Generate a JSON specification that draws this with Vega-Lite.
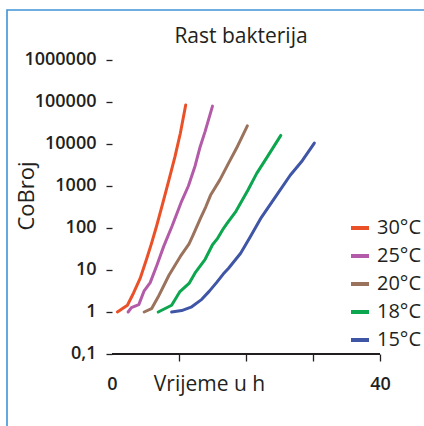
{
  "$schema": "https://vega.github.io/schema/vega-lite/v6.json",
  "width": 420,
  "height": 420,
  "autosize": {"type": "none"},
  "padding": {"left": 7, "top": 10, "right": 0, "bottom": 0},
  "background": "white",
  "title": {
    "text": "Rast bakterija",
    "frame": "group",
    "anchor": "middle",
    "dx": 24,
    "offset": -37,
    "font": "Open Sans",
    "fontSize": 21,
    "fontWeight": "normal",
    "color": "#231F20"
  },
  "config": {
    "view": {"stroke": "#3E93D6", "strokeWidth": 1.6},
    "font": "Open Sans"
  },
  "data": {
    "values": [
      {"temp": "30°C", "t": 0.8, "n": 1.0},
      {"temp": "30°C", "t": 2.3, "n": 1.45},
      {"temp": "30°C", "t": 3.2, "n": 2.8},
      {"temp": "30°C", "t": 4.2, "n": 6.3},
      {"temp": "30°C", "t": 5.2, "n": 19},
      {"temp": "30°C", "t": 5.9, "n": 43},
      {"temp": "30°C", "t": 6.7, "n": 118},
      {"temp": "30°C", "t": 7.6, "n": 400},
      {"temp": "30°C", "t": 8.5, "n": 1400},
      {"temp": "30°C", "t": 9.4, "n": 5000},
      {"temp": "30°C", "t": 10.2, "n": 18000},
      {"temp": "30°C", "t": 11.0, "n": 85000},

      {"temp": "25°C", "t": 2.4, "n": 1.0},
      {"temp": "25°C", "t": 2.9, "n": 1.27},
      {"temp": "25°C", "t": 4.0, "n": 1.5},
      {"temp": "25°C", "t": 4.8, "n": 3.2},
      {"temp": "25°C", "t": 5.7, "n": 5},
      {"temp": "25°C", "t": 6.7, "n": 13},
      {"temp": "25°C", "t": 7.7, "n": 36},
      {"temp": "25°C", "t": 9.0, "n": 115},
      {"temp": "25°C", "t": 10.3, "n": 400},
      {"temp": "25°C", "t": 11.4, "n": 1000},
      {"temp": "25°C", "t": 12.4, "n": 3000},
      {"temp": "25°C", "t": 13.1, "n": 8000},
      {"temp": "25°C", "t": 13.9, "n": 20000},
      {"temp": "25°C", "t": 15.0, "n": 80000},

      {"temp": "20°C", "t": 4.8, "n": 1.0},
      {"temp": "20°C", "t": 5.9, "n": 1.2},
      {"temp": "20°C", "t": 6.9, "n": 2.3},
      {"temp": "20°C", "t": 8.5, "n": 7.5},
      {"temp": "20°C", "t": 10.2, "n": 21},
      {"temp": "20°C", "t": 11.5, "n": 42},
      {"temp": "20°C", "t": 12.1, "n": 68},
      {"temp": "20°C", "t": 13.2, "n": 170},
      {"temp": "20°C", "t": 14.0, "n": 320},
      {"temp": "20°C", "t": 14.7, "n": 600},
      {"temp": "20°C", "t": 16.1, "n": 1400},
      {"temp": "20°C", "t": 17.4, "n": 3500},
      {"temp": "20°C", "t": 18.6, "n": 8000},
      {"temp": "20°C", "t": 20.2, "n": 27000},

      {"temp": "18°C", "t": 6.9, "n": 1.0},
      {"temp": "18°C", "t": 8.9, "n": 1.45},
      {"temp": "18°C", "t": 10.1, "n": 3.0},
      {"temp": "18°C", "t": 11.5, "n": 4.8},
      {"temp": "18°C", "t": 12.4, "n": 8.5},
      {"temp": "18°C", "t": 13.9, "n": 18},
      {"temp": "18°C", "t": 15.0, "n": 40},
      {"temp": "18°C", "t": 15.7, "n": 55},
      {"temp": "18°C", "t": 16.5, "n": 90},
      {"temp": "18°C", "t": 17.2, "n": 130},
      {"temp": "18°C", "t": 18.5, "n": 250},
      {"temp": "18°C", "t": 20.3, "n": 800},
      {"temp": "18°C", "t": 21.6, "n": 2000},
      {"temp": "18°C", "t": 23.2, "n": 5000},
      {"temp": "18°C", "t": 25.2, "n": 16000},

      {"temp": "15°C", "t": 8.9, "n": 1.0},
      {"temp": "15°C", "t": 10.4, "n": 1.08},
      {"temp": "15°C", "t": 11.8, "n": 1.3},
      {"temp": "15°C", "t": 13.4, "n": 2.0},
      {"temp": "15°C", "t": 14.5, "n": 3.1},
      {"temp": "15°C", "t": 15.6, "n": 5},
      {"temp": "15°C", "t": 16.6, "n": 8},
      {"temp": "15°C", "t": 17.4, "n": 11},
      {"temp": "15°C", "t": 19.2, "n": 25},
      {"temp": "15°C", "t": 20.6, "n": 60},
      {"temp": "15°C", "t": 22.3, "n": 180},
      {"temp": "15°C", "t": 24.7, "n": 650},
      {"temp": "15°C", "t": 26.6, "n": 1800},
      {"temp": "15°C", "t": 28.4, "n": 4000},
      {"temp": "15°C", "t": 30.2, "n": 10500}
    ]
  },
  "layer": [
    {
      "mark": {"type": "line", "strokeWidth": 3, "strokeCap": "round", "strokeJoin": "round"},
      "encoding": {
        "x": {
          "field": "t",
          "type": "quantitative",
          "scale": {"domain": [-15.6716, 47.0149], "nice": false, "zero": false},
          "axis": {
            "orient": "bottom",
            "offset": -76,
            "domain": false,
            "grid": false,
            "values": [0, 10, 20, 30, 40],
            "tickSize": 7,
            "tickWidth": 1.3,
            "tickColor": {"condition": {"test": "datum.value === 0", "value": "transparent"}, "value": "#231F20"},
            "labelExpr": "datum.value === 0 || datum.value === 40 ? datum.label : ''",
            "labelFont": "Open Sans",
            "labelFontSize": 18,
            "labelFontWeight": 600,
            "labelColor": "#231F20",
            "labelPadding": 14,
            "labelBaseline": "top",
            "labelFlush": false,
            "labelOverlap": false,
            "labelBound": false,
            "title": "Vrijeme u h",
            "titleFont": "Open Sans",
            "titleFontSize": 21,
            "titleFontWeight": "normal",
            "titleColor": "#231F20",
            "titleX": 202,
            "titleY": 36,
            "titleBaseline": "alphabetic",
            "titleAlign": "center"
          }
        },
        "y": {
          "field": "n",
          "type": "quantitative",
          "scale": {"type": "log", "domain": [0.0015503, 15503000], "nice": false, "zero": false},
          "axis": {
            "orient": "left",
            "offset": -105,
            "domain": false,
            "grid": false,
            "values": [0.1, 1, 10, 100, 1000, 10000, 100000, 1000000],
            "tickSize": 6,
            "tickWidth": 1.3,
            "tickColor": "#231F20",
            "labelExpr": "datum.value < 0.5 ? '0,1' : format(datum.value, 'd')",
            "labelFont": "Open Sans",
            "labelFontSize": 18,
            "labelFontWeight": 600,
            "labelColor": "#231F20",
            "labelPadding": 10,
            "labelBaseline": "middle",
            "labelOverlap": false,
            "labelBound": false,
            "title": "CoBroj",
            "titleFont": "Open Sans",
            "titleFontSize": 22,
            "titleFontWeight": "normal",
            "titleColor": "#231F20",
            "titleAngle": 270,
            "titleX": -78.7,
            "titleY": 185.5,
            "titleBaseline": "alphabetic",
            "titleAlign": "center"
          }
        },
        "color": {
          "field": "temp",
          "type": "nominal",
          "scale": {
            "domain": ["30°C", "25°C", "20°C", "18°C", "15°C"],
            "range": ["#EA5129", "#B35BA8", "#9B735D", "#0CA64E", "#3F55A5"]
          },
          "legend": {
            "orient": "none",
            "legendX": 342,
            "legendY": 207,
            "title": null,
            "padding": 0,
            "symbolType": "stroke",
            "symbolStrokeWidth": 4,
            "symbolSize": 324,
            "labelFont": "Open Sans",
            "labelFontSize": 20,
            "labelColor": "#231F20",
            "labelOffset": 6,
            "rowPadding": 7
          }
        }
      }
    },
    {
      "mark": {"type": "rule", "color": "#231F20", "strokeWidth": 1.3},
      "encoding": {
        "x": {"datum": 0},
        "x2": {"datum": 40},
        "y": {"datum": 0.1}
      }
    }
  ]
}
